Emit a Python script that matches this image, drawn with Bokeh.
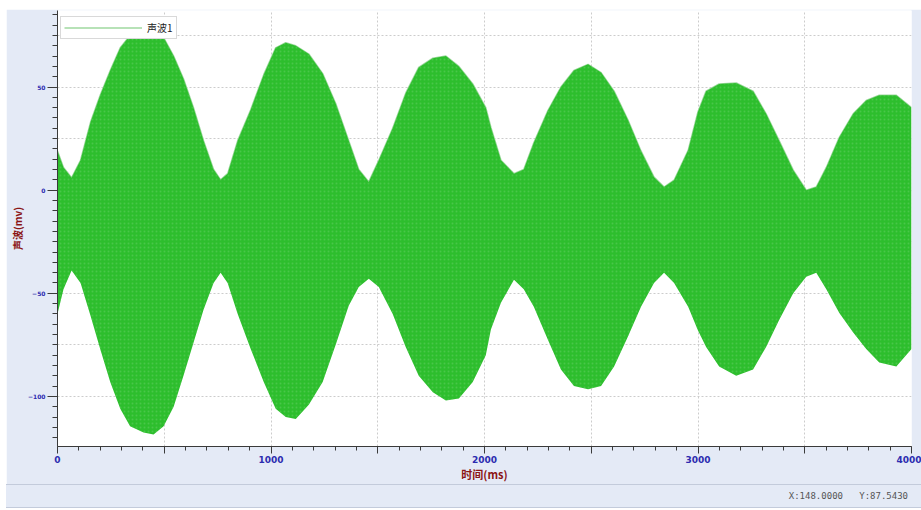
from bokeh.plotting import figure
from bokeh.models import (SingleIntervalTicker, Range1d, Legend, LegendItem, Div,
                          ColumnDataSource)
from bokeh.layouts import column
from bokeh.embed import file_html
from bokeh.resources import INLINE

# ---------------- data ----------------
series_name = "声波1"
x_title = "时间(ms)"
y_title = "声波(mv)"
status_text = "X:148.0000&nbsp;&nbsp;&nbsp;Y:87.5430"

# envelope of the dense wave: time (ms), upper and lower extremes (mV)
time_ms = [0, 28, 66, 108, 155, 200, 247, 294, 340, 403, 450, 497, 544, 590, 637,
           684, 731, 764, 797, 844, 905, 966, 1022, 1069, 1116, 1177, 1242, 1303,
           1364, 1411, 1458, 1505, 1570, 1631, 1692, 1758, 1819, 1880, 1945, 2006,
           2030, 2077, 2138, 2184, 2231, 2297, 2358, 2419, 2485, 2546, 2607, 2672,
           2733, 2794, 2841, 2888, 2954, 3000, 3038, 3099, 3179, 3258, 3319, 3380,
           3446, 3507, 3554, 3601, 3662, 3727, 3788, 3849, 3929, 4000]
upper_mv = [19, 11, 6, 14.5, 33, 46, 58, 69, 75, 80, 80, 74, 65, 54, 40,
            24, 10, 5, 8, 24, 39, 56, 69, 71.5, 70, 66, 56.5, 42,
            24, 10, 4, 14.5, 30, 47, 59.5, 64, 65, 60, 51.5, 40,
            30.4, 14.5, 8, 10, 23, 38.6, 50, 58, 61, 57, 48, 34,
            19, 6.3, 1.5, 4.8, 19.3, 38, 48, 51.5, 52, 48, 37, 24,
            9.7, 0, 1.5, 11, 25.6, 37, 43.5, 46, 46, 40]
lower_mv = [-60, -48, -39, -45, -61, -77, -93, -106, -114.5, -117.5, -118.5, -114.5, -105, -90, -74,
            -58, -45, -40, -45, -60, -77, -93, -106, -110, -111, -104, -93, -75,
            -56, -47, -43, -47, -60, -76, -90, -98, -102, -101, -93, -80,
            -67.6, -54.6, -43.5, -48, -56.5, -72.5, -87, -95, -96.6, -95, -85.5, -71,
            -56.5, -45, -40, -45, -56.5, -68, -76, -85.5, -90, -87, -76, -63,
            -50, -42, -40, -48, -59.6, -69, -77, -83.6, -85.5, -77]

x_tick_values = [0, 1000, 2000, 3000, 4000]
x_tick_labels = ["0", "1000", "2000", "3000", "4000"]
x_unlabelled_ticks = [500, 1500, 2500, 3500]

# ---------------- styling ----------------
BG = "#e4eaf6"
GREEN = "#2dbe2d"
TICK_BLUE = "#2c2cb0"
TITLE_RED = "#8b1414"

p = figure(width=915, height=475, output_backend="svg", toolbar_location=None,
           x_range=Range1d(0, 4000), y_range=Range1d(-124.3, 87.1),
           min_border_left=51, min_border_right=10, min_border_top=1,
           min_border_bottom=37, background_fill_color="white",
           border_fill_color=BG, margin=(9, 0, 0, 6))
p.outline_line_color = None

src = ColumnDataSource(dict(t=time_ms, hi=upper_mv, lo=lower_mv))
edge = p.line("t", "hi", source=src, line_color="#9fd89f", line_width=1.5)
p.varea(x="t", y1="lo", y2="hi", source=src, fill_color=GREEN,
        hatch_pattern=".", hatch_color="#7fd87f", hatch_alpha=0.35, hatch_scale=4)

# x axis
p.xaxis.ticker = SingleIntervalTicker(interval=500, num_minor_ticks=5)
overrides = {v: s for v, s in zip(x_tick_values, x_tick_labels)}
overrides.update({v: "" for v in x_unlabelled_ticks})
p.xaxis.major_label_overrides = overrides
p.xaxis.axis_label = x_title

# y axis
p.yaxis.ticker = SingleIntervalTicker(interval=50, num_minor_ticks=10)
p.yaxis.axis_label = y_title

for ax in (p.xaxis[0], p.yaxis[0]):
    ax.axis_line_color = "#3a3a3a"
    ax.major_tick_line_color = "#3a3a3a"
    ax.minor_tick_line_color = "#3a3a3a"
    ax.major_tick_in = 0
    ax.minor_tick_in = 0
    ax.major_label_text_color = TICK_BLUE
    ax.major_label_text_font = "DejaVu Sans"
    ax.major_label_text_font_style = "bold"
    ax.axis_label_text_color = TITLE_RED
    ax.axis_label_text_font = "Noto Sans CJK SC"
    ax.axis_label_text_font_style = "bold"

p.xaxis.axis_label_text_font_size = "11px"
p.yaxis.axis_label_text_font_size = "10px"
p.xaxis.major_label_text_font_size = "9px"
p.yaxis.major_label_text_font_size = "6px"
p.xaxis.major_tick_out = 7
p.xaxis.minor_tick_out = 4
p.xaxis.major_label_standoff = 2
p.xaxis.axis_label_standoff = 0
p.yaxis.major_tick_out = 10
p.yaxis.minor_tick_out = 5
p.yaxis.major_label_standoff = 2
p.yaxis.axis_label_standoff = 0

# grids
p.xgrid.grid_line_color = "#cccccc"
p.xgrid.grid_line_dash = "2 2"
p.ygrid.ticker = SingleIntervalTicker(interval=25)
p.ygrid.grid_line_color = "#cccccc"
p.ygrid.grid_line_dash = "2 2"

legend = Legend(items=[LegendItem(label=series_name, renderers=[edge])],
                location=(3, 407), margin=0, padding=3, spacing=0,
                glyph_width=78, glyph_height=11, label_standoff=5,
                label_height=11, label_text_font="Noto Sans CJK SC",
                label_text_font_size="10px", label_text_color="#222222",
                border_line_color="#b4b4b4", background_fill_color="white",
                background_fill_alpha=1.0)
p.add_layout(legend)

status = Div(text=('<div style="box-sizing:border-box;width:915px;height:24px;'
                   'border-top:1px solid #c3cbdb;border-bottom:1px solid #c3cbdb;'
                   'background:%s;font-family:\'DejaVu Sans Mono\',monospace;font-size:9px;'
                   'color:#555555;text-align:right;line-height:22px;padding-right:13px;">%s</div>'
                   % (BG, status_text)),
             width=915, height=24, margin=(0, 0, 0, 6))

layout = column(p, status, spacing=0)
open("out.html", "w").write(file_html(layout, INLINE))
